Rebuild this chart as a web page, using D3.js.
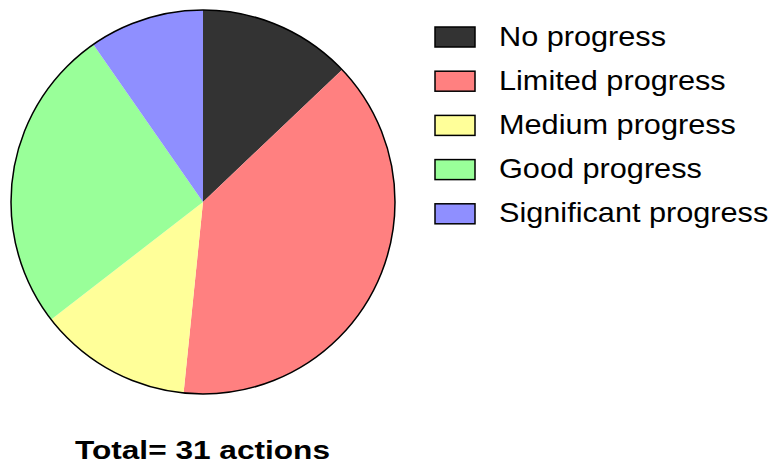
<!DOCTYPE html>
<html><head><meta charset="utf-8">
<script src="https://cdn.jsdelivr.net/npm/d3@7"></script>
<style>body{margin:0;background:#fff}</style>
</head><body>
<script>
const categories = ["No progress","Limited progress","Medium progress","Good progress","Significant progress"];
const values = [4,12,4,8,3];
const colors = ["#333333","#FF8080","#FFFF99","#99FF99","#8F8FFF"];
const totalLabel = "Total= 31 actions";

const W=780,H=465;
const svg=d3.select("body").append("svg").attr("width",W).attr("height",H);
const cx=203, cy=202, r=192;
const pie=d3.pie().sort(null).value(d=>d.v);
const data=pie(categories.map((c,i)=>({c,v:values[i],col:colors[i]})));
const arc=d3.arc().innerRadius(0).outerRadius(r);
const g=svg.append("g").attr("transform",`translate(${cx},${cy})`);
g.selectAll("path").data(data).join("path").attr("d",arc).attr("fill",d=>d.data.col);
g.append("circle").attr("r",r).attr("fill","none").attr("stroke","#000").attr("stroke-width",1.5);

const leg=svg.append("g");
const y0=27, dy=44.2, stretch=1.115;
categories.forEach((c,i)=>{
  leg.append("rect").attr("x",435).attr("y",y0+i*dy).attr("width",40).attr("height",20)
    .attr("fill",colors[i]).attr("stroke","#000").attr("stroke-width",1.5);
  const t=leg.append("text").attr("x",499).attr("y",y0+i*dy+18.5).attr("font-family","Liberation Sans, Arial, sans-serif")
    .attr("font-size",27.5).attr("fill","#000").text(c);
  const w=t.node().getComputedTextLength();
  t.attr("textLength",w*stretch).attr("lengthAdjust","spacingAndGlyphs");
});
const tt=svg.append("text").attr("x",75).attr("y",459).attr("font-family","Liberation Sans, Arial, sans-serif")
  .attr("font-size",26.5).attr("font-weight","bold").attr("fill","#000").text(totalLabel);
tt.attr("textLength",255).attr("lengthAdjust","spacingAndGlyphs");
</script>
</body></html>
